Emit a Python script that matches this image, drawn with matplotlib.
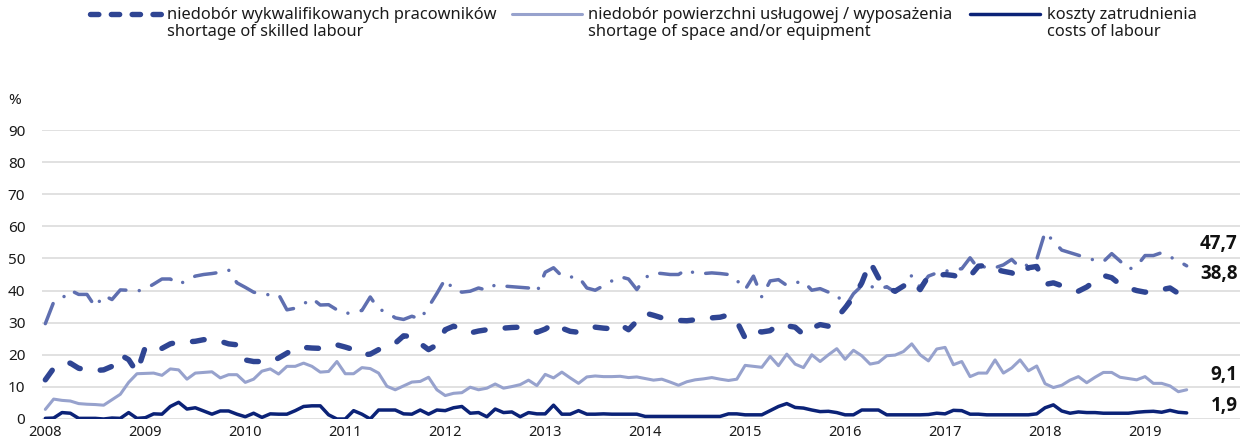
import matplotlib
matplotlib.use("Agg")
import matplotlib.pyplot as plt
from matplotlib.lines import Line2D
import numpy as np

plt.rcParams['font.family'] = ['Noto Sans', 'DejaVu Sans']
plt.rcParams['lines.scale_dashes'] = False

# Monthly survey shares (%), January 2008 onwards
years = [str(y) for y in range(2008, 2020)]

skilled_labour = [
    12.2, 15.8, 17.4, 17.4, 15.8, 15.3, 15.1, 15.3, 16.4, 20.0, 18.5, 14.5,
    22.4, 21.4, 22.0, 23.4, 24.0, 24.0, 24.2, 24.7, 24.7, 24.2, 23.4, 23.1,
    18.4, 17.9, 17.9, 17.7, 19.0, 20.5, 22.1, 22.3, 22.1, 22.0, 22.2, 23.1,
    22.4, 21.6, 20.0, 20.2, 21.6, 22.8, 23.6, 25.9, 25.7, 23.5, 21.6, 23.1,
    27.8, 28.9, 28.0, 26.8, 27.4, 27.8, 28.1, 28.3, 28.5, 28.6, 28.1, 27.0,
    28.0, 29.7, 28.3, 27.3, 27.0, 27.5, 28.6, 28.3, 28.1, 29.4, 27.8, 30.5,
    33.0, 32.3, 31.5, 31.1, 30.7, 30.6, 30.9, 31.1, 31.5, 31.7, 32.4, 30.4,
    25.2, 27.5, 27.1, 27.5, 29.4, 29.0, 28.6, 26.3, 28.3, 29.4, 28.9, 31.5,
    34.6, 37.9, 42.4, 48.9, 44.0, 40.8, 39.8, 41.4, 43.0, 40.3, 44.5, 44.7,
    45.0, 44.7, 44.0, 44.5, 47.6, 47.8, 46.6, 46.0, 45.5, 44.3, 47.1, 47.5,
    41.9, 42.4, 41.5, 40.8, 39.8, 41.1, 43.0, 44.7, 44.0, 41.9, 40.8, 40.0,
    39.5, 39.8, 40.3, 40.8, 39.1, 38.8,
]

skilled_labour_other = [
    29.7, 36.4, 37.5, 40.1, 38.8, 38.8, 34.9, 38.5, 37.2, 40.2, 40.1, 39.8,
    40.5, 42.0, 43.6, 43.6, 41.9, 43.2, 44.5, 45.0, 45.3, 45.7, 46.4, 42.4,
    41.0, 39.5, 38.8, 38.7, 38.8, 34.0, 34.5, 35.8, 37.6, 35.5, 35.6, 34.0,
    32.8, 33.3, 33.8, 38.0, 34.2, 33.3, 31.5, 31.0, 32.0, 31.1, 34.9, 39.1,
    43.6, 40.3, 39.5, 39.8, 40.8, 40.1, 41.8, 41.4, 41.2, 41.0, 40.8, 39.5,
    45.7, 47.1, 44.5, 44.2, 44.3, 40.8, 40.1, 41.5, 43.0, 44.3, 43.6, 40.3,
    44.0, 45.5, 45.3, 45.0, 45.0, 46.6, 45.3, 45.3, 45.5, 45.3, 45.0, 43.2,
    40.3, 44.5, 38.0, 43.0, 43.4, 41.6, 42.4, 42.9, 40.1, 40.6, 39.5, 38.8,
    34.9, 39.0, 41.5, 41.4, 40.4, 41.2, 39.5, 41.5, 44.7, 41.0, 44.5, 45.5,
    46.0, 46.5, 46.8, 50.2, 46.8, 47.6, 47.1, 48.0, 49.7, 47.1, 48.1, 49.7,
    58.2, 55.4, 52.6, 51.8, 51.0, 50.2, 49.4, 49.0, 51.5, 49.2, 46.6, 47.6,
    50.9, 50.9, 51.8, 50.5, 49.2, 47.7,
]

space_equipment = [
    3.0, 6.2, 5.8, 5.6, 4.8, 4.6, 4.5, 4.3, 6.0, 7.7, 11.4, 14.1,
    14.2, 14.3, 13.6, 15.6, 15.3, 12.4, 14.3, 14.5, 14.7, 12.8, 13.8, 13.8,
    11.4, 12.4, 14.9, 15.6, 14.0, 16.4, 16.4, 17.4, 16.4, 14.6, 14.8, 17.9,
    14.1, 14.1, 16.0, 15.7, 14.3, 10.2, 9.1, 10.3, 11.5, 11.7, 13.0, 9.1,
    7.3, 8.0, 8.2, 9.9, 9.1, 9.6, 10.9, 9.6, 10.1, 10.7, 12.1, 10.4,
    13.9, 12.8, 14.6, 12.8, 11.1, 13.1, 13.4, 13.2, 13.2, 13.3, 12.9, 13.1,
    12.6, 12.1, 12.4, 11.5, 10.5, 11.6, 12.2, 12.5, 12.9, 12.4, 12.0, 12.4,
    16.7, 16.4, 16.1, 19.5, 16.6, 20.2, 17.1, 16.0, 20.0, 17.9, 20.0, 21.9,
    18.6, 21.4, 19.7, 17.1, 17.6, 19.7, 19.9, 21.0, 23.4, 20.0, 18.1, 21.8,
    22.3, 16.9, 17.9, 13.2, 14.3, 14.3, 18.4, 14.3, 15.9, 18.4, 15.0, 16.5,
    11.0, 9.8, 10.5, 12.1, 13.2, 11.3, 13.0, 14.5, 14.5, 13.0, 12.6, 12.2,
    13.2, 11.1, 11.1, 10.3, 8.5, 9.1,
]

labour_costs = [
    0.2, 0.3, 2.0, 1.8, 0.2, 0.2, 0.2, 0.0, 0.3, 0.2, 2.0, 0.2,
    0.4, 1.6, 1.5, 3.9, 5.2, 3.1, 3.5, 2.5, 1.5, 2.5, 2.5, 1.5,
    0.7, 1.8, 0.5, 1.6, 1.5, 1.5, 2.6, 3.9, 4.1, 4.1, 1.3, 0.0,
    0.0, 2.6, 1.5, 0.0, 2.8, 2.8, 2.8, 1.6, 1.5, 2.8, 1.5, 2.8,
    2.6, 3.5, 3.9, 1.8, 2.0, 0.7, 3.1, 2.0, 2.2, 0.7, 2.0, 1.6,
    1.6, 4.3, 1.5, 1.5, 2.6, 1.5, 1.5, 1.6, 1.5, 1.5, 1.5, 1.5,
    0.8, 0.8, 0.8, 0.8, 0.8, 0.8, 0.8, 0.8, 0.8, 0.8, 1.6, 1.6,
    1.3, 1.3, 1.3, 2.6, 3.9, 4.8, 3.6, 3.4, 2.8, 2.3, 2.4, 2.0,
    1.3, 1.3, 2.8, 2.8, 2.8, 1.3, 1.3, 1.3, 1.3, 1.3, 1.4, 1.8,
    1.6, 2.7, 2.6, 1.5, 1.5, 1.3, 1.3, 1.3, 1.3, 1.3, 1.3, 1.6,
    3.5, 4.4, 2.5, 1.8, 2.2, 2.0, 2.0, 1.8, 1.8, 1.8, 1.8, 2.1,
    2.3, 2.4, 2.1, 2.7, 2.1, 1.9,
]

legend_pl = ["niedobór wykwalifikowanych pracowników",
             "niedobór powierzchni usługowej / wyposażenia",
             "koszty zatrudnienia"]
legend_en = ["shortage of skilled labour",
             "shortage of space and/or equipment",
             "costs of labour"]

C_SKILLED = "#2f4593"
C_OTHER = "#5f6fb0"
C_SPACE = "#97a2cd"
C_COSTS = "#0b2277"
GRID = "#d9d9d9"
TXT = "#1a1a1a"

W, H = 1245, 443
fig = plt.figure(figsize=(W / 100, H / 100), dpi=100)
ax = fig.add_axes([42 / W, 24 / H, (1240 - 42) / W, (419 - 130) / H])

months = np.arange(len(skilled_labour))

ax.plot(months, space_equipment, color=C_SPACE, lw=2.2,
        solid_joinstyle='round', solid_capstyle='round', zorder=3)
ax.plot(months, labour_costs, color=C_COSTS, lw=2.5,
        solid_joinstyle='round', solid_capstyle='round', zorder=4)
ax.plot(months, skilled_labour_other, color=C_OTHER, lw=2.5,
        linestyle=(0, (15.5, 9.7, 0.01, 9.7)),
        dash_capstyle='round', dash_joinstyle='round', zorder=5)
ax.plot(months, skilled_labour, color=C_SKILLED, lw=3.9,
        linestyle=(0, (8.5, 14.5)),
        dash_capstyle='round', dash_joinstyle='round', zorder=6)

ax.set_xlim(-0.4, 143.4)
ax.set_ylim(0, 90)
ax.set_yticks(np.arange(0, 91, 10))
ax.set_xticks(np.arange(0, 12 * len(years), 12))
ax.set_xticklabels(years)
ax.tick_params(axis='both', length=0, labelsize=11, colors=TXT)
ax.tick_params(axis='y', pad=12)
ax.tick_params(axis='x', pad=4, labelsize=10.5)
ax.grid(axis='y', color=GRID, lw=1.1, zorder=0)
ax.set_axisbelow(True)
for s in ax.spines.values():
    s.set_visible(False)

# end-of-series value labels
end_series = [skilled_labour_other, skilled_labour, space_equipment, labour_costs]
lift = [22, 20, 15, 7]
for series, dy in zip(end_series, lift):
    v = series[-1]
    ax.annotate(f"{v:.1f}".replace('.', ','), xy=(months[-1], v),
                xytext=(51, dy), textcoords='offset pixels',
                ha='right', va='center', fontsize=13.5, fontweight='bold',
                family=['Open Sans', 'DejaVu Sans'],
                color='#111111', annotation_clip=False)

fig.text(8 / W, 1 - 100 / H, "%", fontsize=11, va='center', color=TXT)

# legend drawn in figure pixels
def fx(x):
    return x / W

def fy(y):
    return 1 - y / H

legend_items = [
    (90, 162, 167, C_SKILLED, 3.9, (0, (6.0, 9.0))),
    (512, 582, 588, C_SPACE, 2.2, '-'),
    (970, 1040, 1047, C_COSTS, 2.5, '-'),
]
for (x0, x1, tx, col, lw, ls), pl, en in zip(legend_items, legend_pl, legend_en):
    fig.add_artist(Line2D([fx(x0), fx(x1)], [fy(14), fy(14)], color=col, lw=lw,
                          linestyle=ls, dash_capstyle='round',
                          solid_capstyle='round', transform=fig.transFigure))
    fig.text(fx(tx), fy(15), pl, fontsize=11.8, va='center', color=TXT)
    fig.text(fx(tx), fy(32), en, fontsize=11.8, va='center', color=TXT)

fig.savefig("out.png", dpi=100)
